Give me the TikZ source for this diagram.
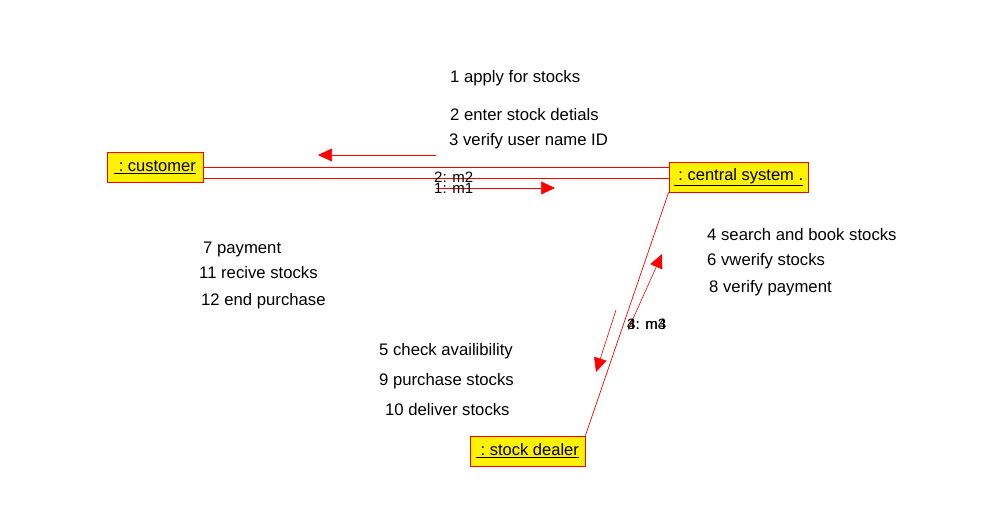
\documentclass[tikz,border=0pt]{standalone}
\usepackage{fontspec}
\setmainfont{Liberation Sans}
\usetikzlibrary{arrows.meta,calc}
\begin{document}
\begin{tikzpicture}[x=1pt,y=-1pt,
  obj/.style={draw=red,fill=yellow,line width=0.8pt,minimum height=30pt,inner sep=0pt,font=\fontsize{16.5}{18}\selectfont},
  link/.style={draw=red,line width=0.7pt},
  msg/.style={draw=red,line width=0.6pt,-{Triangle[length=14pt,width=13pt]}},
  lbl/.style={anchor=west,inner sep=0pt,font=\fontsize{16.7}{19}\selectfont},
  mlbl/.style={anchor=west,inner sep=0pt,font=\fontsize{15}{17}\selectfont}]
\useasboundingbox (0,0) rectangle (1008,528);
\fill[white] (0,0) rectangle (1008,528);
\node[obj,minimum width=96pt] (customer) at (155,167) {\underline{\ :\ customer}};
\node[obj,minimum width=139pt] (central) at (738.5,177) {\underline{\ :\ central system .}};
\node[obj,minimum width=115pt] (dealer) at (527.5,451) {\underline{\ :\ stock dealer}};
% links
\draw[link] (customer.east) -- (central.west |- customer.east);
\draw[link] ($(customer.east)+(0,11)$) -- (central.west |- {$(customer.east)+(0,11)$});
\draw[link] (central.south west) -- (dealer.north east);
% message arrows
\coordinate (a1s) at (436,155); \coordinate (a1e) at (318,155);
\coordinate (a2s) at (436,188); \coordinate (a2e) at (555,188);
\coordinate (a3s) at (616,310); \coordinate (a3e) at (596,372);
\coordinate (a4s) at (628,330); \coordinate (a4e) at (662,254);
\draw[msg] (a1s) -- (a1e);
\draw[msg] (a2s) -- (a2e);
\draw[msg] (a3s) -- (a3e);
\draw[msg] (a4s) -- (a4e);
\node[mlbl] (m2) at (434,177) {2: m2};
\node[mlbl] (m1) at (434,188) {1: m1};
\node[mlbl] (m3) at (627,324) {3: m3};
\node[mlbl] (m4) at (627,324) {4: m4};
% texts
\node[lbl] (t1) at (450,78) {1 apply for stocks};
\node[lbl] (t2) at (450,115) {2 enter stock detials};
\node[lbl] (t3) at (449,141) {3 verify user name ID};
\node[lbl] (t4) at (707,235) {4 search and book stocks};
\node[lbl] (t6) at (707,261) {6 vwerify stocks};
\node[lbl] (t8) at (709,288) {8 verify payment};
\node[lbl] (t7) at (203,249) {7 payment};
\node[lbl] (t11) at (199,273) {11 recive stocks};
\node[lbl] (t12) at (201,301) {12 end purchase};
\node[lbl] (t5) at (379,351) {5 check availibility};
\node[lbl] (t9) at (379,381) {9 purchase stocks};
\node[lbl] (t10) at (385,410) {10 deliver stocks};
\end{tikzpicture}
\end{document}
